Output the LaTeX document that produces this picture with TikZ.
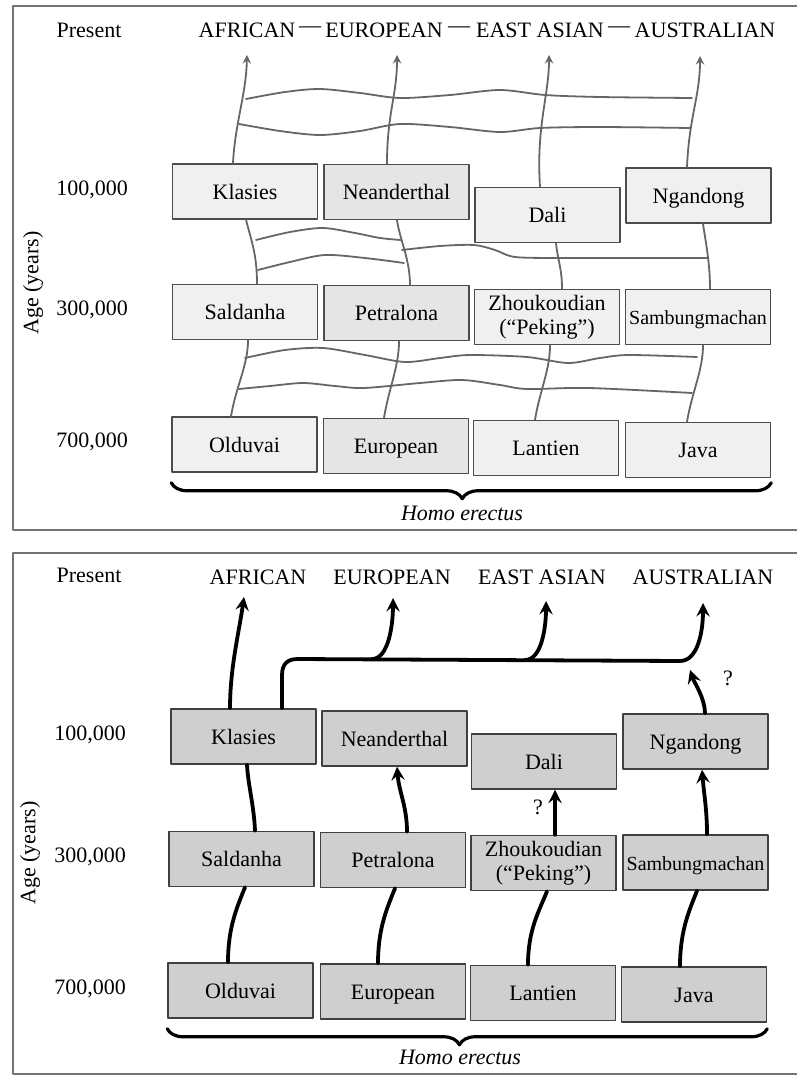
\documentclass[tikz,border=0pt]{standalone}
\usepackage{fontspec}
\setmainfont{Liberation Serif}
\usetikzlibrary{decorations.pathreplacing}
\begin{document}
\begin{tikzpicture}[x=0.5pt,y=-0.5pt,>=stealth,line join=round,line cap=round,
	font=\fontsize{11}{12}\selectfont,
	box/.style={draw,line width=0.75pt,minimum width=72.5pt,minimum height=27.5pt,inner sep=0pt,align=center,text height=9.6pt,text depth=2pt},
	two/.style={text height=,text depth=,yshift=-1pt},
	boxa/.style={box,draw=black!70,fill=black!6},
	boxb/.style={box,draw=black!75,fill=black!19},
	grayln/.style={draw=black!60,line width=0.9pt},
	blackln/.style={draw=black,line width=1.9pt},
	hd/.style={inner sep=0pt},
	brc/.style={decorate,decoration={brace,mirror,amplitude=8pt,aspect=0.485},line width=1.6pt}]
	
	\useasboundingbox (0,0) rectangle (797,1076);
	\draw[black!55,line width=1pt] (797,6) -- (13,6) -- (13,530) -- (797,530);
	\draw[black!55,line width=1pt] (797,553) -- (13,553) -- (13,1074) -- (797,1074);
	
	% ---- upper panel: multiregional web
	\node (pres1) at (89,30) {Present};
	\node[hd] (afr1) at (247,30) {AFRICAN};
	\node[hd] (dsa1) at (310,30) {—};
	\node[hd] (eur1) at (384,30) {EUROPEAN};
	\node[hd] (dsb1) at (459,30) {—};
	\node[hd] (eas1) at (540,30) {EAST ASIAN};
	\node[hd] (dsc1) at (619,30) {—};
	\node[hd] (aus1) at (705,30) {AUSTRALIAN};
	\coordinate (afrtip1) at (247,55);
	\coordinate (eurtip1) at (397,55);
	\coordinate (eastip1) at (549,55);
	\coordinate (austip1) at (700,56);
	\node (ya1) at (92,190) {100,000};
	\node (yb1) at (92,310) {300,000};
	\node (yc1) at (92,442) {700,000};
	\node[rotate=90] (age1) at (33,283) {Age (years)};
	
	\node[boxa] (kla1) at (245,191.5) {Klasies};
	\node[boxa,fill=black!10] (nea1) at (396.5,192) {Neanderthal};
	\node[boxa] (dal1) at (547.5,215) {Dali};
	\node[boxa] (nga1) at (698.5,195.5) {Ngandong};
	\node[boxa] (sal1) at (245,312) {Saldanha};
	\node[boxa,fill=black!10] (pet1) at (396.5,313) {Petralona};
	\node[boxa,two] (zho1) at (547,315) {Zhoukoudian\\(“Peking”)};
	\node[boxa,font=\fontsize{10}{12}\selectfont] (sam1) at (698,317) {Sambungmachan};
	\node[boxa] (old1) at (244.5,444.5) {Olduvai};
	\node[boxa,fill=black!10] (eup1) at (396,446) {European};
	\node[boxa] (lan1) at (546,448) {Lantien};
	\node[boxa] (jav1) at (698,450) {Java};
	
	\draw[grayln] ([xshift=-6.75pt]old1.north) .. controls +(5,-30) and +(0,25) .. ([xshift=1.5pt]sal1.south);
	\draw[grayln] ([xshift=6pt]sal1.north) .. controls +(0,-30) and +(5,20) .. ([xshift=0.5pt]kla1.south);
	\draw[grayln,->] ([xshift=-6pt]kla1.north) .. controls +(2,-40) and +(-1,40) .. (afrtip1);
	\draw[grayln] ([xshift=-6pt]eup1.north) .. controls +(5,-30) and +(0,25) .. ([xshift=1.25pt]pet1.south);
	\draw[grayln] ([xshift=6.75pt]pet1.north) .. controls +(0,-25) and +(3,20) .. ([xshift=0.25pt]nea1.south);
	\draw[grayln,->] ([xshift=-4.75pt]nea1.north) .. controls +(0,-50) and +(0,40) .. (eurtip1);
	\draw[grayln] ([xshift=-5.5pt]lan1.north) .. controls +(5,-30) and +(0,25) .. ([xshift=1.5pt]zho1.south);
	\draw[grayln] ([xshift=7.5pt]zho1.north) .. controls +(0,-20) and +(2,18) .. ([xshift=4.25pt]dal1.south);
	\draw[grayln,->] ([xshift=-3.75pt]dal1.north) .. controls +(-4,-60) and +(0,40) .. (eastip1);
	\draw[grayln] ([xshift=-5.5pt]jav1.north) .. controls +(5,-30) and +(0,25) .. ([xshift=2.5pt]sam1.south);
	\draw[grayln] ([xshift=6pt]sam1.north) .. controls +(0,-25) and +(3,20) .. ([xshift=2.25pt]nga1.south);
	\draw[grayln,->] ([xshift=-5.75pt]nga1.north) .. controls +(2,-50) and +(0,40) .. (austip1);
	
	% gene flow between the lines
	\draw[grayln] plot[smooth] coordinates {(246,99) (285,92) (320,89) (360,93) (400,98) (450,95) (500,90) (545,95) (600,97) (692,98)};
	\draw[grayln] plot[smooth] coordinates {(239,124) (280,131) (320,135) (360,131) (400,124) (450,127) (500,132) (540,128) (600,127) (690,128)};
	\draw[grayln] plot[smooth] coordinates {(256,240) (290,232) (323,228) (355,233) (380,238) (401,240)};
	\draw[grayln] plot[smooth] coordinates {(258,270) (290,262) (325,255) (365,258) (404,263)};
	\draw[grayln] plot[smooth] coordinates {(402,250) (440,246) (474,245) (495,250) (515,257) (560,258) (640,258) (708,258)};
	\draw[grayln] plot[smooth] coordinates {(245,358) (285,350) (323,348) (365,355) (405,362) (440,358) (470,355) (527,357) (568,363) (600,358) (629,355) (697,357)};
	\draw[grayln] plot[smooth] coordinates {(239,389) (270,386) (303,383) (335,386) (364,388) (420,383) (462,380) (500,385) (527,389) (589,388) (692,393)};
	
	\coordinate (bla1) at ([yshift=-5pt]old1.south west);
	\coordinate (bra1) at (bla1 -| jav1.east);
	\draw[brc] (bla1) -- (bra1);
	\node (her1) at (462,513) {\itshape Homo erectus};
	
	% ---- lower panel: replacement
	\node (pres2) at (89,575) {Present};
	\node[hd] (afr2) at (258,577) {AFRICAN};
	\node[hd] (eur2) at (392,577) {EUROPEAN};
	\node[hd] (eas2) at (542,577) {EAST ASIAN};
	\node[hd] (aus2) at (703,577) {AUSTRALIAN};
	\coordinate (afrtip2) at (244,597);
	\coordinate (eurtip2) at (393,598);
	\coordinate (eastip2) at (546,601);
	\coordinate (austip2) at (703,603);
	\node (ya2) at (90,735) {100,000};
	\node (yb2) at (90,857) {300,000};
	\node (yc2) at (90,989) {700,000};
	\node[rotate=90] (age2) at (30,853) {Age (years)};
	
	\node[boxb] (kla2) at (243.5,736.5) {Klasies};
	\node[boxb] (nea2) at (394.5,738.5) {Neanderthal};
	\node[boxb] (dal2) at (544,761.5) {Dali};
	\node[boxb] (nga2) at (695.5,741.5) {Ngandong};
	\node[boxb] (sal2) at (241.5,859) {Saldanha};
	\node[boxb] (pet2) at (393,860) {Petralona};
	\node[boxb,two] (zho2) at (543.5,861) {Zhoukoudian\\(“Peking”)};
	\node[boxb,font=\fontsize{10}{12}\selectfont] (sam2) at (695.5,862.5) {Sambungmachan};
	\node[boxb] (old2) at (240.5,990.5) {Olduvai};
	\node[boxb] (eup2) at (393,991.5) {European};
	\node[boxb] (lan2) at (543,993) {Lantien};
	\node[boxb] (jav2) at (694,994.5) {Java};
	
	\draw[blackln] ([xshift=-6.25pt]old2.north) .. controls +(0,-35) and +(-8,20) .. ([xshift=1.75pt]sal2.south);
	\draw[blackln] ([xshift=6.75pt]sal2.north) .. controls +(-1,-25) and +(1,20) .. ([xshift=1.75pt]kla2.south);
	\draw[blackln,->] ([xshift=-6.75pt]kla2.north) .. controls +(0,-40) and +(-5,35) .. (afrtip2);
	\draw[blackln] ([xshift=-7.5pt]eup2.north) .. controls +(0,-35) and +(-8,20) .. ([xshift=1pt]pet2.south);
	\draw[blackln,->] ([xshift=7pt]pet2.north) .. controls +(0,-25) and +(2,25) .. ([xshift=1.25pt]nea2.south);
	\draw[blackln] ([xshift=-7.5pt]lan2.north) .. controls +(0,-35) and +(-8,20) .. ([xshift=1.75pt]zho2.south);
	\draw[blackln,->] ([xshift=5.75pt]zho2.north) .. controls +(0,-15) and +(0,15) .. ([xshift=5.5pt]dal2.south);
	\draw[blackln] ([xshift=-7pt]jav2.north) .. controls +(0,-35) and +(-8,20) .. ([xshift=0.75pt]sam2.south);
	\draw[blackln,->] ([xshift=5.75pt]sam2.north) .. controls +(0,-25) and +(2,25) .. ([xshift=3.25pt]nga2.south);
	\node (qa2) at (538,807) {?};
	
	% out of Africa line
	\coordinate (hl2) at (298,659);
	\coordinate (jeu2) at (372,659);
	\coordinate (jea2) at (525,660);
	\coordinate (jau2) at (680,661);
	\coordinate (qtip2) at (690,670);
	\draw[blackln,->] ([xshift=19.25pt]kla2.north) -- ++(0,-33) .. controls +(0,-12) and +(-10,0) .. (hl2) -- (jau2) .. controls +(18,0) and +(0,28) .. (austip2);
	\draw[blackln,->] (jeu2) .. controls +(17,0) and +(0,25) .. (eurtip2);
	\draw[blackln,->] (jea2) .. controls +(17,0) and +(0,25) .. (eastip2);
	\draw[blackln,->] ([xshift=4.75pt]nga2.north) .. controls +(0,-15) and +(4,12) .. (qtip2);
	\node (qb2) at (728,678) {?};
	
	\coordinate (bla2) at ([yshift=-5pt]old2.south west);
	\coordinate (bra2) at (bla2 -| jav2.east);
	\draw[brc,decoration={aspect=0.487}] (bla2) -- (bra2);
	\node (her2) at (460,1057) {\itshape Homo erectus};
\end{tikzpicture}
\end{document}
